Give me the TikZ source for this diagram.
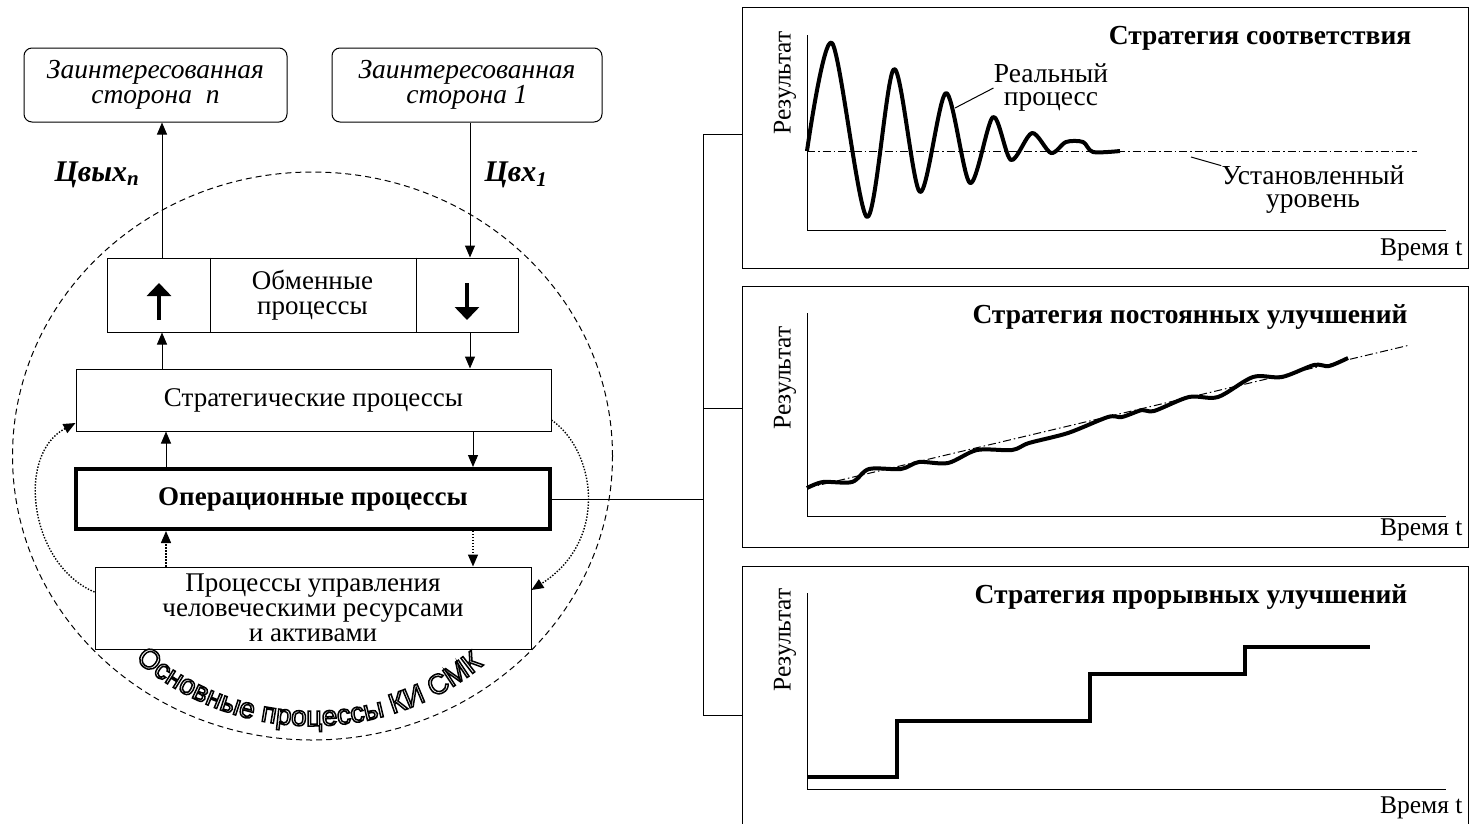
\documentclass[tikz,border=0pt]{standalone}
\usepackage{fontspec}
\setmainfont{Liberation Serif}
\setsansfont{Liberation Sans}
\usetikzlibrary{arrows.meta,decorations.text}
\newcommand\hollow[1]{\special{pdf:literal direct 1 Tr 1.5 w}#1\special{pdf:literal direct 0 Tr}}
\tikzstyle{party} = [draw, rounded corners=8pt, minimum height=74pt, inner sep=0pt, align=center, font=\fontsize{27.5}{25}\selectfont\itshape]
\tikzstyle{proc} = [draw, inner sep=0pt, align=center, font=\fontsize{27}{25}\selectfont]
\tikzstyle{flow} = [-{Triangle[length=12pt,width=10pt]}]
\tikzstyle{ctl} = [flow, dash pattern=on 1.4pt off 1.6pt, line width=1.4pt]
\tikzstyle{cv} = [font=\fontsize{30}{30}\selectfont\bfseries\itshape]
\tikzstyle{gbox} = [draw, minimum width=726pt, inner sep=0pt]
\tikzstyle{axlbl} = [inner sep=0pt, align=center, font=\fontsize{25.5}{23}\selectfont]
\tikzstyle{note} = [inner sep=0pt, align=center, font=\fontsize{27.5}{23}\selectfont]
\tikzstyle{gtitle} = [inner sep=0pt, font=\fontsize{27.5}{25}\selectfont\bfseries]
\tikzstyle{curve} = [line width=4pt, line join=round]
\tikzstyle{level} = [dash pattern=on 8pt off 3pt on 1.5pt off 3pt]

\begin{document}
\begin{tikzpicture}[x=1pt,y=-1pt,line width=1pt]
\useasboundingbox (0,0) rectangle (1470,823);
% interested parties
\node[party, minimum width=263pt] (sideN) at (155.5,85) {Заинтересованная\\сторона~~n};
\node[party, minimum width=270pt] (side1) at (467,85) {Заинтересованная\\сторона 1};
% process boxes
\node[proc, minimum width=411pt, minimum height=74pt] (exch) at (312.5,295) {Обменные\\процессы};
\node[proc, minimum width=475pt, minimum height=62pt] (strat) at (313.5,400) {Стратегические процессы};
\node[proc, line width=4pt, minimum width=474pt, minimum height=60pt, font=\fontsize{27}{25}\selectfont\bfseries] (oper) at (313,499) {Операционные процессы};
\node[proc, minimum width=436pt, minimum height=82pt] (hr) at (313,608) {Процессы управления\\человеческими ресурсами\\и активами};
\coordinate (divL) at (210,0);
\coordinate (divR) at (416,0);
\draw (exch.north -| divL) -- (exch.south -| divL);
\draw (exch.north -| divR) -- (exch.south -| divR);
\draw[line width=4pt, -{Triangle[length=13pt,width=24pt]}] (159,320) -- (159,283);
\draw[line width=4pt, -{Triangle[length=13pt,width=24pt]}] (467,283) -- (467,320);
% flows
\coordinate (upA) at (162,0);
\coordinate (dnA) at (470,0);
\coordinate (upB) at (166,0);
\coordinate (dnB) at (473,0);
\draw[flow] (exch.north -| upA) -- (sideN.south -| upA);
\draw[flow] (side1.south -| dnA) -- (exch.north -| dnA);
\draw[flow] (strat.north -| upA) -- (exch.south -| upA);
\draw[flow] (exch.south -| dnA) -- (strat.north -| dnA);
\draw[flow] (oper.north -| upB) -- (strat.south -| upB);
\draw[flow] (strat.south -| dnB) -- (oper.north -| dnB);
\draw[ctl] (hr.north -| upB) -- (oper.south -| upB);
\draw[ctl] (oper.south -| dnB) -- (hr.north -| dnB);
\draw[ctl] ([yshift=16pt]hr.west) .. controls (30,565) and (15,455) .. ([yshift=-23pt]strat.west);
\draw[ctl] ([yshift=-20pt]strat.east) .. controls (595,450) and (610,540) .. ([yshift=18pt]hr.east);
\node[cv] (outN) at (97,175) {Цвых\textsubscript{n}};
\node[cv] (in1) at (516,175) {Цвх\textsubscript{1}};
% core processes
\draw[dash pattern=on 6pt off 4pt] (312.5,456) ellipse [x radius=300pt, y radius=284pt];
\begingroup
\sffamily\fontsize{28}{28}\selectfont
\path[decorate, decoration={text effects along path, text={Основные процессы КИ СМК},
  text effects/.cd, text along path, character command=\hollow}]
  (312.5,456) ++(229:270pt) arc[start angle=229, end angle=314, radius=270pt];
\endgroup
% strategies
\node[gbox, minimum height=261pt] (g1) at (1105,137.5) {};
\node[gbox, minimum height=261pt] (g2) at (1105,416.5) {};
\node[gbox, minimum height=274pt] (g3) at (1105,703) {};
\coordinate (brA) at (703,134);
\coordinate (brB) at (703,408);
\coordinate (brC) at (703,715);
\draw (g1.west |- brA) -- (brA) -- (brC) -- (g3.west |- brC);
\draw (brB) -- (g2.west |- brB);
\draw (oper.east) -- (oper.east -| brA);
% conformity
\draw (807,35) -- (807,230) -- (1446,230);
\node[axlbl, rotate=90] (res1) at (785,83) {Результат};
\node[axlbl, anchor=east] (t1) at (1463,250) {Время t};
\node[gtitle] (ttl1) at (1260,38) {Стратегия соответствия};
\draw[level] (807,151) -- (1417,151);
\draw[curve] plot[smooth] coordinates {(807,151) (832,43) (867,217) (894,69) (920,192) (946,93) (970,183) (993,117) (1011,160) (1032,133) (1051,153) (1066,142) (1083,142) (1093,152) (1120,151)};
\node[note] (real) at (1051,88) {Реальный\\процесс};
\coordinate (realpt) at (955,108);
\draw (real.west) -- (realpt);
\node[note] (lev) at (1313,190) {Установленный\\уровень};
\coordinate (levpt) at (1191,157);
\draw (levpt) -- (lev.north west);
% continuous improvement
\draw (807,313) -- (807,516) -- (1446,516);
\node[axlbl, rotate=90] (res2) at (785,378) {Результат};
\node[axlbl, anchor=east] (t2) at (1463,530) {Время t};
\node[gtitle] (ttl2) at (1190,317) {Стратегия постоянных улучшений};
\draw[level] (807,488) -- (1410,345);
\draw[curve] plot[smooth] coordinates {(807,488) (823,482) (852,482) (869,469) (901,469) (919,462) (948,463) (977,450) (1012,450) (1029,443) (1068,433) (1108,417) (1122,417) (1142,410) (1154,411) (1189,397) (1218,397) (1253,377) (1282,377) (1314,365) (1329,366) (1348,358)};
% breakthrough improvement
\draw (807,593) -- (807,789) -- (1446,789);
\node[axlbl, rotate=90] (res3) at (785,640) {Результат};
\node[axlbl, anchor=east] (t3) at (1463,808) {Время t};
\node[gtitle] (ttl3) at (1191,597) {Стратегия прорывных улучшений};
\draw[curve, line join=miter] (807,777) -| (897,721) -| (1090,674) -| (1245,647) -- (1370,647);
\end{tikzpicture}
\end{document}
